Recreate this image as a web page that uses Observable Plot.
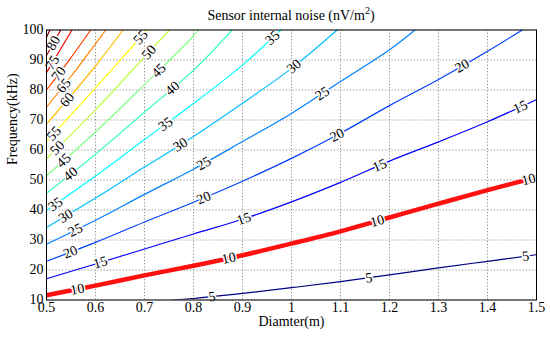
<!DOCTYPE html>
<html><head><meta charset="utf-8">
<script src="https://cdn.jsdelivr.net/npm/d3@7"></script>
<script src="https://cdn.jsdelivr.net/npm/@observablehq/plot@0.6"></script>
<style>
body{margin:0;background:#fff}
#chart svg, #chart svg text, #chart svg g {font-family: "Liberation Serif", "Times New Roman", serif !important;}
</style>
</head><body><div id="chart"></div>
<script>
// ---- data ----
const xTicks = [0.5,0.6,0.7,0.8,0.9,1,1.1,1.2,1.3,1.4,1.5];
const yTicks = [10,20,30,40,50,60,70,80,90,100];
const levels = [5,10,15,20,25,30,35,40,45,50,55,60,65,70,75,80,85];
const c5  = [[0.757,10],[0.8,10.5],[0.9,12.2],[1.0,14.1],[1.1,16.1],[1.2,18.4],[1.3,20.7],[1.4,22.9],[1.5,25.1]];
const c10 = [[0.5,11.6],[0.6,14.8],[0.7,18.2],[0.8,21.4],[0.9,24.9],[1.0,28.8],[1.1,32.9],[1.2,37.5],[1.3,42.1],[1.4,46.6],[1.5,50.9]];
const c15 = [[0.5,17.1],[0.6,22.0],[0.7,27.0],[0.8,32.0],[0.9,36.9],[1.0,42.7],[1.1,49.2],[1.2,56.3],[1.3,62.7],[1.4,69.4],[1.5,76.8]];
const c20 = [[0.5,22.9],[0.6,29.2],[0.7,36.0],[0.8,42.6],[0.9,49.6],[1.0,57.2],[1.1,65.6],[1.2,74.8],[1.3,83.5],[1.4,92.9],[1.471,100]];
const c25 = [[0.5,28.6],[0.6,36.6],[0.7,45.2],[0.8,53.6],[0.9,62.8],[1.0,72.2],[1.1,82.8],[1.2,93.4],[1.252,100]];
const c30 = [[0.5,34.2],[0.6,44.0],[0.7,54.3],[0.8,64.5],[0.9,75.6],[1.0,87.2],[1.093,100]];
const c35 = [[0.5,39.8],[0.6,51.3],[0.7,63.5],[0.8,75.5],[0.9,88.3],[0.978,100]];
const c40 = [[0.5,45.6],[0.6,58.6],[0.7,72.6],[0.8,86.6],[0.879,100]];
const c45 = [[0.5,51.4],[0.6,66.0],[0.7,81.8],[0.8,98.0],[0.81,100]];
const c50 = [[0.5,57.1],[0.6,73.4],[0.7,91.0],[0.751,100]];
const c55 = [[0.5,62.8],[0.6,80.7],[0.705,100]];
const c60 = [[0.5,68.6],[0.6,88.0],[0.656,100]];
const c65 = [[0.5,74.3],[0.55,84.5],[0.6,95.4],[0.621,100]];
const c70 = [[0.5,80.0],[0.55,90.8],[0.59,100]];
const c75 = [[0.5,85.8],[0.525,92.6],[0.552,100]];
const c80 = [[0.5,91.5],[0.529,100]];
const c85 = [[0.5,97.6],[0.507,100]];
const contours = [c5,c10,c15,c20,c25,c30,c35,c40,c45,c50,c55,c60,c65,c70,c75,c80,c85];
// contour label positions: [level, x]
const labelAt = [
  [80,0.514],[75,0.512],[70,0.525],[65,0.535],[60,0.542],
  [55,0.515],[55,0.692],[50,0.522],[50,0.709],[45,0.535],[45,0.729],
  [40,0.549],[40,0.757],[35,0.518],[35,0.743],[35,0.961],
  [30,0.539],[30,0.773],[30,1.005],[25,0.559],[25,0.821],[25,1.063],
  [20,0.549],[20,0.821],[20,1.093],[20,1.348],
  [15,0.610],[15,0.903],[15,1.18],[15,1.467],
  [10,0.563],[10,0.872],[10,1.175],[10,1.484],
  [5,0.838],[5,1.158],[5,1.478]
];
const highlightLevel = 10;

// ---- layout / style ----
const W = 550, H = 337, ml = 46, mr = 14, mt = 29.5, mb = 37.5;
const font = "Liberation Serif";
const jet = d3.scaleLinear().domain([5,15,35,55,75,85])
  .range(["#000080","#0000ff","#00ffff","#ffff00","#ff0000","#800000"]);

const rows = [];
contours.forEach((pts, i) => pts.forEach(([x, y]) => rows.push({level: levels[i], x, y, color: jet(levels[i])})));
const thin = rows.filter(d => d.level !== highlightLevel);
const thick = rows.filter(d => d.level === highlightLevel);

const xPx = (W - ml - mr) / 1.0, yPx = (H - mt - mb) / 90;
function locate(pts, x) {
  for (let i = 0; i < pts.length - 1; i++) {
    const [x0, y0] = pts[i], [x1, y1] = pts[i + 1];
    if (x >= x0 && x <= x1) {
      const t = (x - x0) / (x1 - x0);
      return {y: y0 + t * (y1 - y0), rot: Math.atan2(-(y1 - y0) * yPx, (x1 - x0) * xPx) * 180 / Math.PI};
    }
  }
  return null;
}
const labels = labelAt.map(([lv, x]) => {
  const r = locate(contours[levels.indexOf(lv)], x);
  return r && {x, y: r.y, rot: r.rot, text: String(lv)};
}).filter(Boolean);

const chart = Plot.plot({
  width: W, height: H,
  marginLeft: ml, marginRight: mr, marginTop: mt, marginBottom: mb,
  style: {fontFamily: font, fontSize: "14px", background: "white", color: "black"},
  x: {domain: [0.5, 1.5], label: null},
  y: {domain: [10, 100], label: null},
  color: {type: "identity"},
  marks: [
    Plot.ruleX(xTicks, {stroke: "#8c8c8c", strokeDasharray: "1.2,2"}),
    Plot.ruleY(yTicks, {stroke: "#8c8c8c", strokeDasharray: "1.2,2"}),
    Plot.line(thin, {x: "x", y: "y", z: "level", stroke: "color", strokeWidth: 1.2, curve: "catmull-rom", clip: true}),
    Plot.line(thick, {x: "x", y: "y", stroke: "#ff1010", strokeWidth: 4.5, curve: "catmull-rom", clip: true}),
    Plot.text(labels, {x: "x", y: "y", text: "text", rotate: "rot", fontSize: 14, fill: "black",
      stroke: "white", strokeWidth: 3, fontFamily: font}),
    Plot.frame({stroke: "black", strokeWidth: 1}),
    Plot.axisX({ticks: xTicks, tickFormat: d => String(d), tickSize: 0, tickPadding: 2, fontSize: 14, fontFamily: font, label: null}),
    Plot.axisY({ticks: yTicks, tickFormat: d => String(d), tickSize: 0, tickPadding: 3, fontSize: 14, fontFamily: font, label: null}),
    Plot.text(["Diamter(m)"], {frameAnchor: "bottom", dy: 26, fontSize: 14, fontFamily: font}),
    Plot.text(["Frequency(kHz)"], {frameAnchor: "left", dx: -34, rotate: -90, fontSize: 14, fontFamily: font})
  ]
});
const svg = d3.select(chart);
const title = svg.append("text")
  .attr("x", ml + (W - ml - mr) / 2).attr("y", mt - 10)
  .attr("text-anchor", "middle").attr("font-family", font).attr("font-size", 14).attr("fill", "black");
title.append("tspan").text("Sensor internal noise (nV/m");
title.append("tspan").attr("dy", -6).attr("font-size", 10).text("2");
title.append("tspan").attr("dy", 6).text(")");
document.getElementById("chart").appendChild(chart);
</script>
</body></html>
